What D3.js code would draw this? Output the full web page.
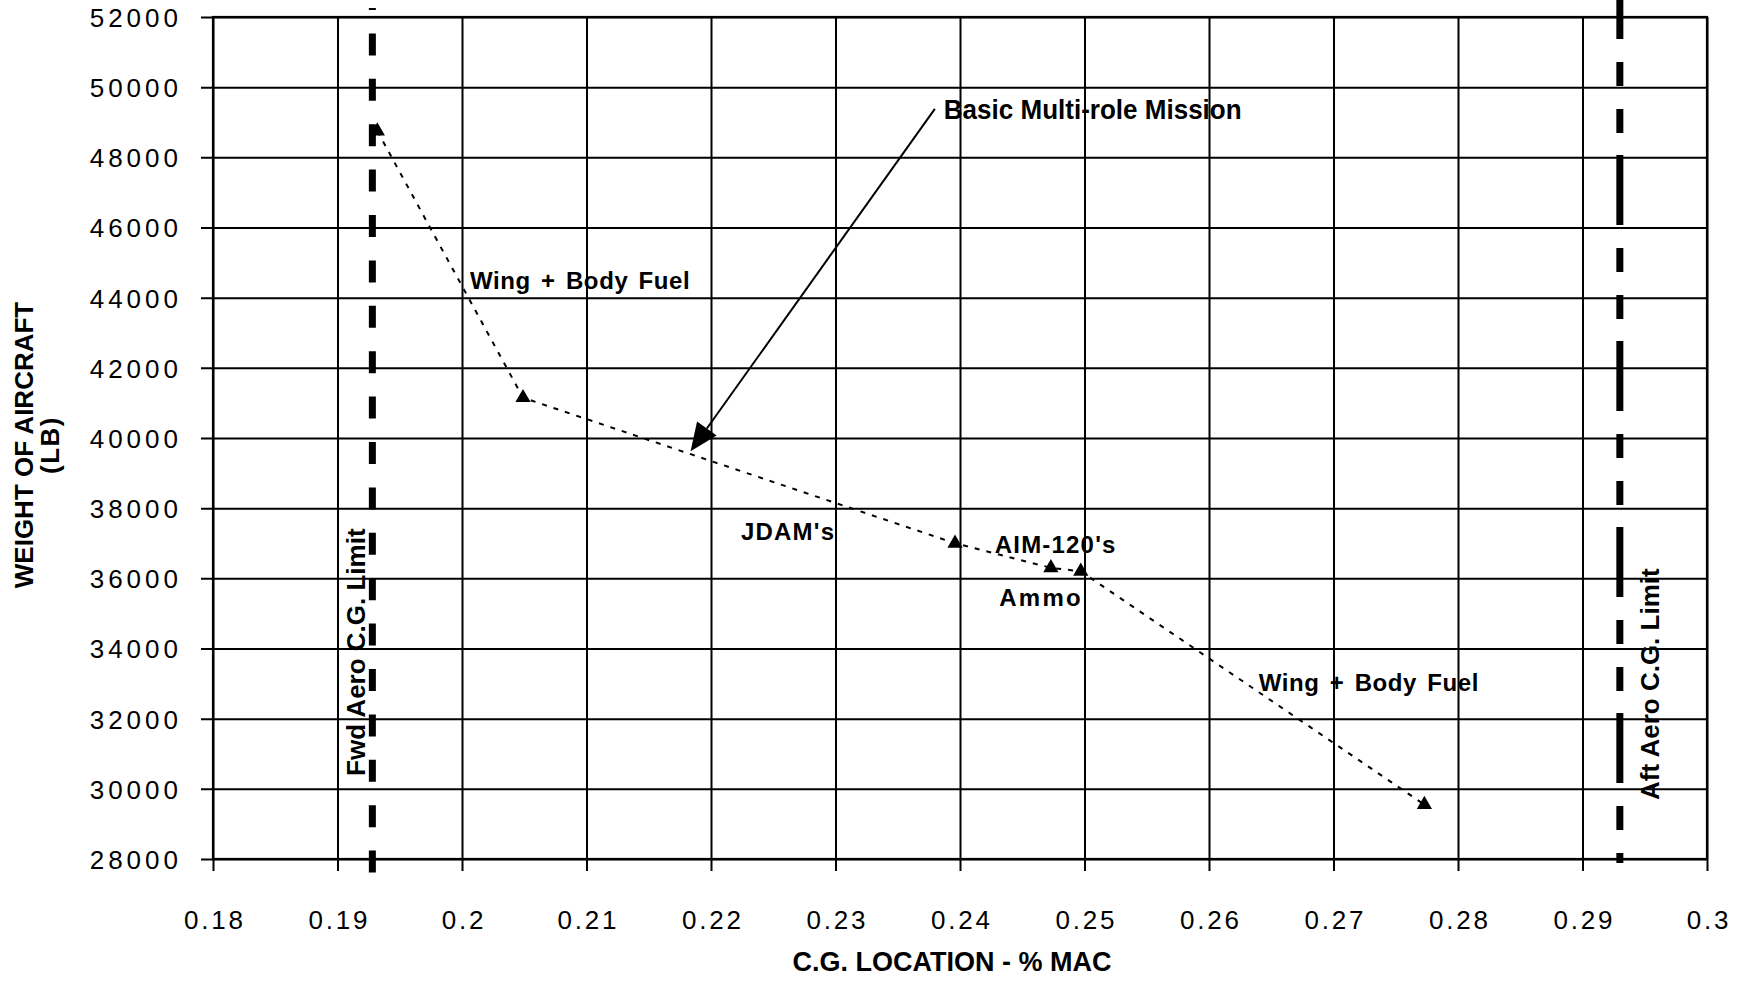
<!DOCTYPE html>
<html><head><meta charset="utf-8">
<script src="https://cdn.jsdelivr.net/npm/d3@7"></script>
<style>
html,body{margin:0;padding:0;background:#fff;}
svg{display:block;}
text{font-family:"Liberation Sans", Arial, Helvetica, sans-serif; fill:#000;}
</style></head><body>
<svg id="chart" width="1742" height="981"></svg>
<script>
// ---- data ----
const cgLocation     = [0.1932, 0.2049, 0.2396, 0.2473, 0.2497, 0.2773];
const aircraftWeight = [48750, 41150, 37000, 36300, 36200, 29550];

const xTicks      = [0.18, 0.19, 0.20, 0.21, 0.22, 0.23, 0.24, 0.25, 0.26, 0.27, 0.28, 0.29, 0.30];
const xTickLabels = ["0.18","0.19","0.2","0.21","0.22","0.23","0.24","0.25","0.26","0.27","0.28","0.29","0.3"];
const yTicks      = [28000, 30000, 32000, 34000, 36000, 38000, 40000, 42000, 44000, 46000, 48000, 50000, 52000];
const yTickLabels = ["28000","30000","32000","34000","36000","38000","40000","42000","44000","46000","48000","50000","52000"];

const cgLimits      = [0.1928, 0.2930];
const cgLimitLabels = ["Fwd Aero C.G. Limit", "Aft Aero C.G. Limit"];
const cgLimitLabelX = [0.19221, 0.29614];
const cgLimitLabelY = [30369, 29684];

const noteTexts = ["Wing + Body Fuel", "JDAM's", "AIM-120's", "Ammo", "Wing + Body Fuel"];
const noteX     = [0.20064, 0.22241, 0.24279, 0.24316, 0.26399];
const noteY     = [44238, 37104, 36733, 35220, 32794];

const calloutText  = "Basic Multi-role Mission";
const calloutLabel = [0.2387, 49098];
const calloutFrom  = [0.23798, 49383];
const calloutTo    = [0.21836, 39620];

const xTitle = "C.G. LOCATION - % MAC";
const yTitle = ["WEIGHT OF AIRCRAFT", "(LB)"];

// ---- layout ----
const svg = d3.select("#chart");
const L = 213, R = 1707, T = 17, B = 859, TK = 12;
const x = d3.scaleLinear().domain([xTicks[0], xTicks[xTicks.length-1]]).range([L, R]);
const y = d3.scaleLinear().domain([yTicks[0], yTicks[yTicks.length-1]]).range([B, T]);

// x axis with gridlines
const gx = svg.append("g").attr("transform", `translate(0,${B + TK})`)
  .call(d3.axisBottom(x).tickValues(xTicks).tickSize(-(B - T + TK))
        .tickFormat((d, i) => xTickLabels[i]));
gx.select(".domain").remove();
gx.selectAll(".tick line").attr("stroke", "#000").attr("stroke-width", 2);
gx.selectAll(".tick text").attr("y", 58).attr("dy", 0).attr("dx", "1.4px")
  .style("font-size", "26px").style("letter-spacing", "2.8px").attr("fill", "#000");

// y axis with gridlines
const gy = svg.append("g").attr("transform", `translate(${L - TK},0)`)
  .call(d3.axisLeft(y).tickValues(yTicks).tickSize(-(R - L + TK))
        .tickFormat((d, i) => yTickLabels[i]));
gy.select(".domain").remove();
gy.selectAll(".tick line").attr("stroke", "#000").attr("stroke-width", 2);
gy.selectAll(".tick text").attr("x", -19).attr("dy", "0.36em")
  .style("font-size", "26px").style("letter-spacing", "4px").attr("fill", "#000");

// plot frame
svg.append("rect").attr("x", L).attr("y", T).attr("width", R - L).attr("height", B - T)
  .attr("fill", "none").attr("stroke", "#000").attr("stroke-width", 2.2);

// C.G. limit lines
svg.append("line")
  .attr("x1", x(cgLimits[0])).attr("x2", x(cgLimits[0]))
  .attr("y1", T - 9).attr("y2", B + 14)
  .attr("stroke", "#000").attr("stroke-width", 7)
  .attr("stroke-dasharray", "22,23.4").attr("stroke-dashoffset", 20);
svg.append("line")
  .attr("x1", x(cgLimits[1])).attr("x2", x(cgLimits[1]))
  .attr("y1", T - 17).attr("y2", B + 4)
  .attr("stroke", "#000").attr("stroke-width", 7)
  .attr("stroke-dasharray", "70,23,24,23,24,22").attr("stroke-dashoffset", 31);

// dotted mission path
const pts = cgLocation.map((c, i) => [c, aircraftWeight[i]]);
svg.append("path").datum(pts)
  .attr("d", d3.line().x(d => x(d[0])).y(d => y(d[1])))
  .attr("fill", "none").attr("stroke", "#000").attr("stroke-width", 2)
  .attr("stroke-dasharray", "5,7");

svg.selectAll(".pt").data(pts).join("path").attr("class", "pt")
  .attr("transform", d => `translate(${x(d[0])},${y(d[1])})`)
  .attr("d", d3.symbol(d3.symbolTriangle, 100))
  .attr("fill", "#000");

// callout arrow
const ax0 = x(calloutFrom[0]), ay0 = y(calloutFrom[1]);
const ax1 = x(calloutTo[0]),   ay1 = y(calloutTo[1]);
const ang = Math.atan2(ay1 - ay0, ax1 - ax0);
const hl = 28, hw = 12;
const bx = ax1 - hl * Math.cos(ang), by = ay1 - hl * Math.sin(ang);
svg.append("line").attr("x1", ax0).attr("y1", ay0).attr("x2", bx).attr("y2", by)
  .attr("stroke", "#000").attr("stroke-width", 2);
svg.append("path")
  .attr("d", d3.line()([
    [ax1, ay1],
    [bx + hw * Math.sin(ang), by - hw * Math.cos(ang)],
    [bx - hw * Math.sin(ang), by + hw * Math.cos(ang)]
  ]) + "Z")
  .attr("fill", "#000");
svg.append("text")
  .attr("transform", `translate(${x(calloutLabel[0])},${y(calloutLabel[1])}) scale(0.93,1)`)
  .style("font-size", "28px").style("font-weight", "bold")
  .text(calloutText);

// notes
svg.selectAll(".note").data(noteTexts).join("text").attr("class", "note")
  .attr("x", (d, i) => x(noteX[i])).attr("y", (d, i) => y(noteY[i]))
  .style("font-size", "24px").style("font-weight", "bold")
  .style("letter-spacing", (d) => d === "Ammo" ? "2.2px" : (d.startsWith("Wing") ? "0.6px" : "1.2px"))
  .style("word-spacing", "3px")
  .text(d => d);

// limit labels (vertical)
svg.selectAll(".lim").data(cgLimitLabels).join("text").attr("class", "lim")
  .attr("transform", (d, i) => `translate(${x(cgLimitLabelX[i])},${y(cgLimitLabelY[i])}) rotate(-90)`)
  .style("font-size", "26px").style("font-weight", "bold")
  .text(d => d);

// axis titles
svg.append("text").attr("x", (L + R) / 2 - 8).attr("y", B + 112)
  .attr("text-anchor", "middle")
  .style("font-size", "27px").style("font-weight", "bold")
  .text(xTitle);
svg.selectAll(".ytitle").data(yTitle).join("text").attr("class", "ytitle")
  .attr("transform", (d, i) => `translate(${i === 0 ? 33 : 59},${(T + B) / 2 + 7}) rotate(-90)`)
  .attr("text-anchor", "middle")
  .style("font-size", "26px").style("font-weight", "bold")
  .style("letter-spacing", (d, i) => i === 1 ? "1.5px" : "0px")
  .text(d => d);
</script>
</body></html>
